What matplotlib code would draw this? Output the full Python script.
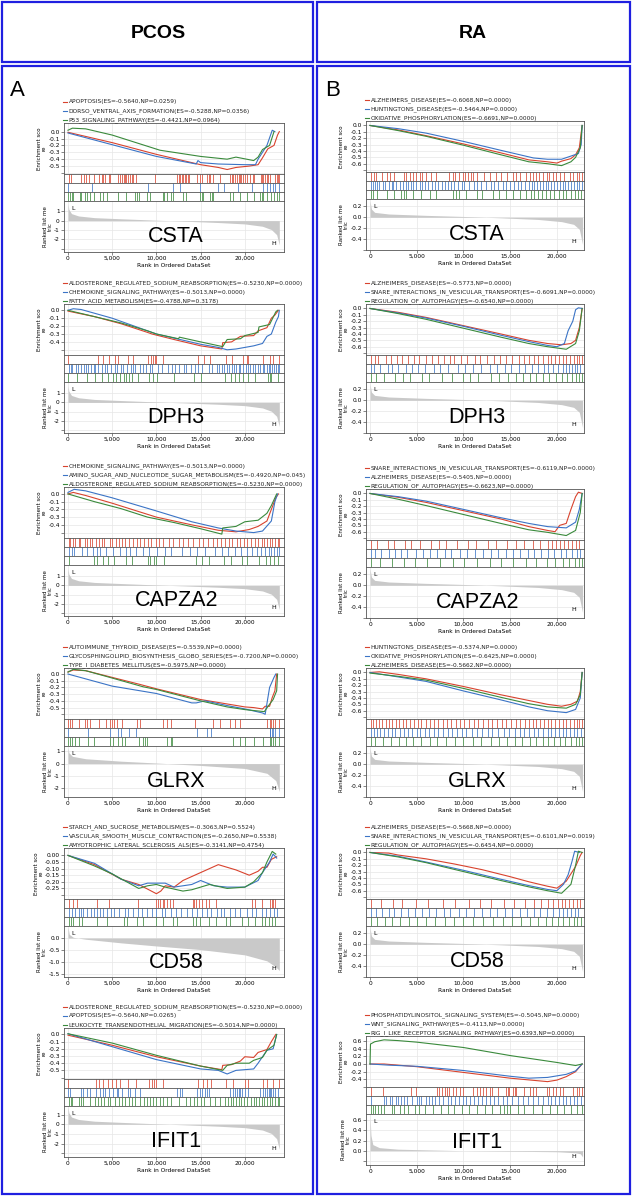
import matplotlib
matplotlib.use("Agg")
import matplotlib.pyplot as plt
from matplotlib.lines import Line2D
from matplotlib.patches import Rectangle
from matplotlib.ticker import FuncFormatter

W, H = 632, 1197
RED, BLUE, GREEN = "#d8432e", "#3b74c6", "#3a8a3c"
COLORS = [RED, BLUE, GREEN]

# ---------------- PCOS panels ----------------
P_CSTA_labels = ["APOPTOSIS(ES=-0.5640,NP=0.0259)",
                 "DORSO_VENTRAL_AXIS_FORMATION(ES=-0.5288,NP=0.0356)",
                 "P53_SIGNALING_PATHWAY(ES=-0.4421,NP=0.0964)"]
P_CSTA_red = [(0, -0.01), (2000, -0.07), (5000, -0.16), (10000, -0.33), (13000, -0.42), (15000, -0.48),
              (17000, -0.52), (18000, -0.55), (19000, -0.52), (20500, -0.50), (21500, -0.48), (22000, -0.38),
              (22600, -0.25), (23300, -0.20), (23700, -0.05), (23900, 0.0)]
P_CSTA_blue = [(0, -0.02), (5000, -0.19), (10000, -0.36), (14500, -0.47), (14700, -0.42), (15000, -0.45),
               (17000, -0.47), (20000, -0.48), (21200, -0.48), (21500, -0.40), (22000, -0.30), (22500, -0.20),
               (23100, 0.02), (23400, 0.0)]
P_CSTA_green = [(0, 0.02), (500, 0.05), (2000, 0.04), (5000, -0.05), (10400, -0.27), (15000, -0.36),
                (18000, -0.40), (19000, -0.37), (21000, -0.42), (21500, -0.37), (22000, -0.26), (22800, -0.20),
                (23300, 0.0)]
P_CSTA_hits_red = [0.08, 0.3, 1.5, 1.8, 2.0, 2.4, 2.9, 3.5, 3.8, 4.0, 4.2, 4.6, 4.8, 5.7, 5.9, 6.1, 6.3, 6.5,
                   6.6, 6.8, 7.0, 7.2, 7.4, 7.7, 9.8, 12.3, 12.5, 12.7, 12.9, 13.0, 13.2, 13.4, 13.6, 13.7, 14.6,
                   14.9, 15.1, 15.7, 15.9, 16.1, 16.4, 17.2, 18.3, 18.5, 18.7, 18.9, 19.1, 19.3, 19.5, 19.6, 19.8,
                   20.0, 20.3, 20.6, 20.9, 21.0, 21.8, 21.9, 22.1, 22.3, 22.5, 22.6, 22.8, 23.4, 23.6, 23.8, 23.9]
P_CSTA_hits_blue = [0.04, 2.7, 9.1, 11.9, 12.7, 14.9, 17.0, 17.6, 19.2, 20.8, 22.1, 22.5, 22.8, 23.2, 23.4, 23.9]
P_CSTA_hits_green = [0.04, 0.2, 0.4, 0.6, 1.4, 1.5, 1.9, 2.1, 2.5, 2.9, 3.6, 4.0, 4.4, 5.7, 6.6, 7.6, 7.8, 8.0,
                     8.9, 9.3, 10.7, 10.9, 11.2, 11.6, 11.9, 13.0, 13.4, 14.9, 15.1, 15.3, 16.1, 16.3, 16.4, 18.3,
                     18.7, 19.5, 20.2, 21.0, 21.7, 21.9, 22.1, 22.5, 23.0, 23.3, 23.6, 23.9]

P_DPH3_labels = ["ALDOSTERONE_REGULATED_SODIUM_REABSORPTION(ES=-0.5230,NP=0.0000)",
                 "CHEMOKINE_SIGNALING_PATHWAY(ES=-0.5013,NP=0.0000)",
                 "FATTY_ACID_METABOLISM(ES=-0.4788,NP=0.3178)"]
P_DPH3_red = [(0, -0.01), (3000, -0.08), (6000, -0.17), (9000, -0.28), (9500, -0.30), (12000, -0.37),
              (15000, -0.45), (17400, -0.49), (17500, -0.41), (18500, -0.40), (19500, -0.33), (21000, -0.32),
              (21500, -0.26), (22500, -0.22), (23000, -0.10), (23400, -0.06), (23800, 0.0)]
P_DPH3_blue = [(0, 0.0), (600, 0.02), (1500, 0.01), (5000, -0.10), (10000, -0.30), (15000, -0.43),
               (17000, -0.47), (18000, -0.50), (19000, -0.49), (21000, -0.45), (22000, -0.42), (22500, -0.33),
               (23000, -0.30), (23500, -0.15), (23800, -0.08), (23900, 0.0)]
P_DPH3_green = [(0, 0.0), (3000, -0.08), (6000, -0.16), (9000, -0.26), (10000, -0.30), (12500, -0.36),
                (12600, -0.34), (15000, -0.40), (17500, -0.46), (18000, -0.37), (19500, -0.36), (20000, -0.32),
                (21500, -0.28), (21600, -0.21), (22800, -0.18), (23500, -0.02), (23700, 0.0)]
P_DPH3_hits_red = [0.04, 3.4, 4.0, 4.6, 5.3, 5.7, 6.8, 7.3, 9.1, 9.4, 9.6, 9.8, 10.0, 10.8, 14.7, 15.4, 16.1,
                   17.9, 18.6, 19.8, 20.2, 20.4, 22.1, 22.8, 23.2, 23.9]
P_DPH3_hits_blue = [0.1, 0.3, 0.5, 0.9, 1.1, 1.5, 1.8, 2.0, 2.3, 2.6, 2.9, 3.1, 3.4, 3.9, 4.2, 4.4, 4.9, 5.3,
                    5.5, 6.0, 6.2, 6.7, 7.1, 7.4, 7.6, 8.1, 8.5, 8.8, 9.3, 9.5, 10.2, 10.6, 11.3, 11.8, 12.1, 12.6,
                    13.1, 13.4, 13.9, 14.4, 14.7, 15.2, 15.9, 16.3, 16.8, 17.1, 17.4, 17.7, 18.0, 18.2, 18.5, 18.8,
                    19.0, 19.3, 19.5, 19.8, 20.1, 20.4, 20.6, 20.9, 21.2, 21.5, 21.7, 22.0, 22.2, 22.5, 22.7, 22.9,
                    23.1, 23.3, 23.5, 23.7, 23.9]
P_DPH3_hits_green = [0.04, 1.0, 2.1, 3.0, 3.8, 4.5, 5.1, 5.4, 5.9, 6.3, 6.6, 6.9, 7.2, 7.9, 9.2, 9.6, 10.1, 12.0,
                     14.2, 15.0, 17.8, 18.4, 18.9, 19.3, 19.8, 20.4, 21.2, 22.6, 22.8, 23.0, 23.8]

P_CAPZA2_labels = ["CHEMOKINE_SIGNALING_PATHWAY(ES=-0.5013,NP=0.0000)",
                   "AMINO_SUGAR_AND_NUCLEOTIDE_SUGAR_METABOLISM(ES=-0.4920,NP=0.045)",
                   "ALDOSTERONE_REGULATED_SODIUM_REABSORPTION(ES=-0.5230,NP=0.0000)"]
P_CAPZA2_red = [(0, 0.0), (600, 0.02), (2000, -0.02), (5000, -0.12), (10000, -0.30), (14000, -0.40),
                (17000, -0.47), (19000, -0.49), (20500, -0.46), (21500, -0.42), (22500, -0.35), (23000, -0.20),
                (23500, -0.05), (23800, 0.0)]
P_CAPZA2_blue = [(0, 0.02), (700, 0.06), (2000, 0.04), (5000, -0.05), (10000, -0.22), (14000, -0.36),
                 (17000, -0.44), (19000, -0.48), (21000, -0.50), (22000, -0.48), (23000, -0.35), (23400, -0.10),
                 (23700, 0.0)]
P_CAPZA2_green = [(0, 0.0), (3000, -0.10), (6000, -0.19), (9000, -0.30), (12000, -0.37), (15000, -0.45),
                  (17400, -0.52), (17500, -0.44), (19000, -0.42), (20000, -0.36), (21500, -0.34), (22500, -0.25),
                  (23000, -0.15), (23600, 0.0)]
P_CAPZA2_hits_red = [0.1, 0.2, 0.6, 0.8, 1.2, 1.4, 1.9, 2.2, 2.5, 2.7, 3.2, 3.5, 3.8, 4.1, 4.7, 5.0, 5.4, 5.8,
                     6.1, 6.5, 6.9, 7.3, 7.8, 8.2, 8.6, 9.0, 9.4, 9.9, 10.3, 10.8, 11.4, 11.9, 12.5, 13.0, 13.6,
                     14.1, 14.8, 15.3, 15.8, 16.4, 16.9, 17.3, 17.8, 18.2, 18.6, 19.1, 19.5, 19.9, 20.3, 20.7,
                     21.1, 21.5, 21.9, 22.2, 22.5, 22.8, 23.1, 23.4, 23.7, 23.9]
P_CAPZA2_hits_blue = [0.1, 0.4, 0.7, 1.6, 2.1, 2.8, 3.3, 3.6, 4.3, 5.1, 5.9, 6.6, 7.0, 7.7, 8.5, 9.2, 10.1, 11.0,
                      11.7, 12.9, 13.8, 14.6, 15.5, 16.6, 17.4, 18.1, 18.9, 19.6, 20.2, 20.8, 21.4, 21.8, 22.3,
                      22.7, 23.0, 23.3, 23.6, 23.9]
P_CAPZA2_hits_green = [0.1, 2.9, 3.3, 4.0, 4.5, 5.2, 6.6, 7.2, 9.0, 9.3, 9.7, 10.0, 10.9, 14.5, 15.2, 16.0, 17.6,
                       18.4, 19.7, 20.3, 21.6, 22.4, 22.9, 23.3, 23.8]

P_GLRX_labels = ["AUTOIMMUNE_THYROID_DISEASE(ES=-0.5539,NP=0.0000)",
                 "GLYCOSPHINGOLIPID_BIOSYNTHESIS_GLOBO_SERIES(ES=-0.7200,NP=0.0000)",
                 "TYPE_I_DIABETES_MELLITUS(ES=-0.5975,NP=0.0000)"]
P_GLRX_red = [(0, 0.03), (600, 0.06), (2000, 0.05), (5000, -0.05), (8000, -0.15), (10000, -0.22), (15000, -0.38),
              (20000, -0.49), (21000, -0.50), (22000, -0.52), (22300, -0.48), (22800, -0.48), (23100, -0.35),
              (23400, -0.25), (23600, 0.0)]
P_GLRX_blue = [(0, 0.0), (5000, -0.18), (10000, -0.29), (14000, -0.43), (14500, -0.43), (15500, -0.40),
               (18000, -0.47), (20000, -0.52), (22000, -0.58), (22300, -0.60), (22800, -0.20), (23300, -0.05),
               (23500, 0.0)]
P_GLRX_green = [(0, 0.03), (600, 0.07), (2000, 0.05), (5000, -0.06), (8500, -0.19), (10000, -0.23), (15000, -0.40),
                (18000, -0.49), (20000, -0.53), (22200, -0.56), (22800, -0.45), (23200, -0.38), (23600, -0.25),
                (23700, 0.0)]
P_GLRX_hits_red = [0.04, 0.2, 0.4, 1.2, 1.9, 2.2, 2.5, 3.5, 4.3, 4.8, 5.0, 5.2, 5.6, 6.1, 7.8, 8.2, 10.8, 11.2,
                   11.6, 14.4, 16.4, 17.2, 18.3, 18.9, 19.5, 22.5, 22.8, 23.0, 23.2, 23.4, 23.9]
P_GLRX_hits_blue = [0.04, 2.3, 4.8, 5.7, 6.0, 6.9, 7.7, 14.6, 15.7, 16.2, 22.8, 22.9, 23.1, 23.2, 23.4, 23.9]
P_GLRX_hits_green = [0.04, 0.2, 0.4, 0.8, 1.2, 2.3, 2.9, 4.8, 5.1, 5.7, 6.1, 6.4, 8.0, 8.5, 8.7, 8.9, 11.2, 11.6,
                     11.8, 18.7, 19.5, 20.0, 21.0, 22.1, 22.8, 23.0, 23.2, 23.4, 23.9]

P_CD58_labels = ["STARCH_AND_SUCROSE_METABOLISM(ES=-0.3063,NP=0.5524)",
                 "VASCULAR_SMOOTH_MUSCLE_CONTRACTION(ES=-0.2650,NP=0.5538)",
                 "AMYOTROPHIC_LATERAL_SCLEROSIS_ALS(ES=-0.3141,NP=0.4754)"]
P_CD58_red = [(0, 0.0), (3000, -0.07), (6000, -0.18), (8000, -0.22), (10000, -0.29), (10500, -0.27),
              (11000, -0.23), (12000, -0.24), (13000, -0.19), (15000, -0.13), (16000, -0.10), (17000, -0.07),
              (18000, -0.09), (19000, -0.11), (20500, -0.15), (21500, -0.12), (22000, -0.09), (22500, -0.09),
              (23000, -0.03), (23600, -0.01)]
P_CD58_blue = [(0, 0.0), (3000, -0.06), (6000, -0.18), (8000, -0.23), (9000, -0.21), (11000, -0.21),
               (12000, -0.24), (14000, -0.22), (15000, -0.19), (16500, -0.23), (18000, -0.24), (20000, -0.24),
               (21500, -0.19), (22000, -0.13), (22800, -0.05), (23200, 0.01), (23600, -0.02)]
P_CD58_green = [(0, 0.0), (3000, -0.08), (5000, -0.14), (8000, -0.25), (9000, -0.23), (10000, -0.22),
                (11000, -0.24), (13000, -0.27), (14000, -0.26), (15000, -0.24), (16000, -0.22), (18000, -0.25),
                (20000, -0.24), (21000, -0.20), (22000, -0.13), (22500, -0.05), (23100, 0.03), (23500, 0.01)]
P_CD58_hits_red = [0.1, 0.6, 1.0, 3.3, 4.6, 7.9, 9.9, 10.2, 10.4, 10.7, 10.9, 11.2, 11.5, 11.9, 14.1, 14.3, 14.5,
                   14.8, 15.2, 15.6, 16.0, 16.7, 20.8, 21.2, 21.9, 22.8, 23.1, 23.2, 23.4]
P_CD58_hits_blue = [0.1, 0.4, 0.8, 1.3, 1.5, 1.7, 2.2, 2.6, 2.9, 3.3, 3.6, 4.0, 4.4, 4.9, 5.2, 5.8, 6.4, 6.8, 7.3,
                    7.9, 8.4, 8.9, 9.5, 9.9, 10.6, 11.0, 11.6, 12.2, 12.8, 13.5, 14.0, 14.6, 15.1, 15.7, 16.2,
                    16.8, 17.3, 17.7, 18.3, 18.9, 19.5, 20.2, 20.8, 21.3, 21.9, 22.4, 22.9, 23.3, 23.6]
P_CD58_hits_green = [0.1, 0.3, 0.6, 1.2, 1.6, 3.3, 4.4, 6.3, 6.7, 7.8, 8.5, 10.0, 10.8, 11.9, 12.3, 14.1, 14.5,
                     14.9, 16.0, 16.7, 17.9, 18.3, 19.7, 20.4, 21.2, 21.9, 22.3, 22.7, 23.1, 23.4]

P_IFIT1_labels = ["ALDOSTERONE_REGULATED_SODIUM_REABSORPTION(ES=-0.5230,NP=0.0000)",
                  "APOPTOSIS(ES=-0.5640,NP=0.0265)",
                  "LEUKOCYTE_TRANSENDOTHELIAL_MIGRATION(ES=-0.5014,NP=0.0000)"]
P_IFIT1_red = [(0, -0.01), (5000, -0.15), (10000, -0.31), (15000, -0.44), (17400, -0.49), (17500, -0.43),
               (18500, -0.42), (19500, -0.37), (20000, -0.31), (21000, -0.32), (21500, -0.25), (22500, -0.21),
               (23000, -0.10), (23500, 0.0)]
P_IFIT1_blue = [(0, 0.01), (5000, -0.17), (10000, -0.35), (15000, -0.48), (17000, -0.50), (18000, -0.55),
                (19000, -0.50), (21000, -0.48), (21500, -0.40), (22500, -0.22), (23200, -0.20), (23600, 0.0)]
P_IFIT1_green = [(0, 0.01), (5000, -0.12), (10000, -0.29), (15000, -0.44), (17500, -0.50), (18000, -0.43),
                 (19000, -0.40), (20500, -0.40), (21000, -0.36), (22000, -0.32), (22500, -0.22), (23300, -0.15),
                 (23600, 0.0)]
P_IFIT1_hits_red = [0.04, 3.2, 3.5, 4.0, 4.5, 5.0, 5.4, 5.9, 6.8, 7.7, 9.2, 9.5, 9.7, 10.0, 10.8, 14.7, 15.3, 15.7,
                    16.2, 17.9, 18.7, 20.0, 20.4, 22.1, 22.5, 23.2, 23.9]
P_IFIT1_hits_blue = [0.04, 0.2, 1.5, 1.7, 2.1, 2.5, 3.2, 3.6, 4.0, 4.2, 4.6, 5.1, 5.5, 5.7, 6.1, 6.8, 7.0, 7.6, 8.1,
                     12.3, 12.7, 12.9, 14.6, 14.9, 15.1, 15.5, 15.7, 15.9, 18.3, 18.7, 18.9, 19.1, 19.3, 19.5,
                     19.7, 20.0, 20.4, 21.7, 22.1, 22.3, 22.5, 22.7, 22.8, 23.0, 23.2, 23.4, 23.8]
P_IFIT1_hits_green = [0.1, 0.3, 0.5, 1.3, 1.5, 1.7, 2.5, 3.0, 3.4, 3.7, 4.1, 4.5, 4.8, 5.3, 5.8, 6.1, 6.5, 6.9,
                      7.2, 7.6, 8.2, 8.6, 8.9, 9.3, 9.6, 9.9, 10.4, 10.8, 11.2, 11.7, 12.5, 13.3, 13.8, 14.2, 14.6,
                      15.0, 15.4, 16.1, 16.6, 17.2, 17.8, 18.1, 18.4, 18.7, 19.0, 19.3, 19.6, 19.9, 20.3, 20.7,
                      21.0, 21.3, 21.6, 21.9, 22.2, 22.5, 22.8, 23.1, 23.4, 23.7, 23.9]

P_metric = [(0, 1.8), (100, 1.2), (400, 0.75), (1200, 0.5), (3000, 0.32), (6000, 0.2), (10000, 0.05),
            (13000, -0.05), (17000, -0.2), (20000, -0.35), (22000, -0.6), (23000, -0.95), (23600, -1.5),
            (23900, -2.6)]
P_GLRX_metric = [(0, 1.3), (100, 0.9), (500, 0.6), (2000, 0.4), (6000, 0.2), (10000, 0.05), (15000, -0.15),
                 (20000, -0.4), (22500, -0.8), (23500, -1.4), (23900, -2.3)]
P_CD58_metric = [(0, 0.45), (150, 0.15), (600, 0.03), (2000, -0.05), (6000, -0.2), (10000, -0.33),
                 (15000, -0.48), (20000, -0.7), (22500, -0.95), (23500, -1.2), (23900, -1.35)]

# ---------------- RA panels ----------------
R_CSTA_labels = ["ALZHEIMERS_DISEASE(ES=-0.6068,NP=0.0000)",
                 "HUNTINGTONS_DISEASE(ES=-0.5464,NP=0.0000)",
                 "OXIDATIVE_PHOSPHORYLATION(ES=-0.6691,NP=0.0000)"]
R_CSTA_red = [(0, 0.0), (3000, -0.07), (6000, -0.16), (10000, -0.29), (14000, -0.43), (17000, -0.54),
              (19000, -0.57), (20000, -0.59), (20500, -0.56), (21500, -0.52), (22000, -0.46), (22400, -0.35),
              (22700, 0.0)]
R_CSTA_blue = [(0, 0.0), (3000, -0.05), (6000, -0.12), (10000, -0.25), (14000, -0.39), (17500, -0.51),
               (19000, -0.53), (20500, -0.53), (21500, -0.48), (22300, -0.44), (22600, -0.30), (22700, 0.0)]
R_CSTA_green = [(0, 0.0), (3000, -0.08), (6000, -0.17), (10000, -0.31), (14000, -0.46), (17000, -0.57),
                (19000, -0.60), (20500, -0.63), (21500, -0.57), (22000, -0.50), (22500, -0.35), (22700, 0.0)]
R_CSTA_hits_red = [0.1, 0.4, 0.6, 1.3, 1.8, 2.1, 2.6, 3.6, 3.8, 4.3, 4.6, 4.9, 5.3, 5.6, 6.0, 6.5, 7.1, 8.5, 8.9,
                   9.1, 9.5, 9.9, 10.2, 10.5, 10.8, 11.0, 11.4, 12.2, 12.8, 13.5, 14.0, 14.7, 15.3, 15.6, 16.0,
                   16.7, 17.1, 17.4, 17.8, 18.1, 18.5, 18.9, 19.2, 19.6, 19.9, 20.3, 20.8, 21.4, 21.7, 22.1, 22.4,
                   22.7]
R_CSTA_hits_blue = [0.1, 0.3, 0.5, 0.8, 1.0, 1.4, 1.6, 2.0, 2.3, 2.5, 2.8, 3.2, 3.5, 3.8, 4.1, 4.4, 4.6, 4.9, 5.3,
                    5.6, 5.9, 6.2, 6.6, 7.0, 7.3, 7.7, 8.0, 8.3, 8.7, 9.0, 9.4, 9.8, 10.1, 10.6, 11.1, 11.5, 11.9,
                    12.4, 12.9, 13.3, 13.7, 14.2, 14.6, 15.0, 15.4, 15.8, 16.2, 16.6, 17.0, 17.3, 17.6, 17.9, 18.2,
                    18.5, 18.8, 19.1, 19.4, 19.7, 20.0, 20.3, 20.6, 20.9, 21.2, 21.5, 21.8, 22.1, 22.4, 22.7]
R_CSTA_hits_green = [0.1, 0.3, 0.7, 1.8, 2.6, 3.3, 3.6, 3.9, 4.6, 5.5, 6.4, 7.1, 8.9, 9.2, 9.5, 10.3, 11.4, 12.0,
                     13.2, 13.8, 14.5, 15.3, 16.1, 16.7, 17.2, 17.6, 18.0, 18.4, 18.8, 19.3, 19.7, 20.2, 20.6,
                     21.0, 21.5, 21.9, 22.3, 22.6]

R_DPH3_labels = ["ALZHEIMERS_DISEASE(ES=-0.5773,NP=0.0000)",
                 "SNARE_INTERACTIONS_IN_VESICULAR_TRANSPORT(ES=-0.6091,NP=0.0000)",
                 "REGULATION_OF_AUTOPHAGY(ES=-0.6540,NP=0.0000)"]
R_DPH3_red = [(0, 0.0), (3000, -0.06), (6000, -0.14), (10000, -0.27), (14000, -0.40), (17000, -0.50),
              (19000, -0.55), (20500, -0.57), (21500, -0.55), (22000, -0.50), (22400, -0.30), (22700, 0.0)]
R_DPH3_blue = [(0, 0.0), (3000, -0.07), (6000, -0.15), (10000, -0.28), (14000, -0.42), (17000, -0.52),
               (19000, -0.58), (20000, -0.60), (20800, -0.55), (21200, -0.35), (21700, -0.20), (22000, -0.02),
               (22300, 0.01), (22700, 0.0)]
R_DPH3_green = [(0, 0.0), (3000, -0.08), (6000, -0.17), (10000, -0.31), (14000, -0.45), (17000, -0.55),
                (19000, -0.60), (21000, -0.64), (22000, -0.55), (22400, -0.35), (22700, 0.0)]
R_DPH3_hits_red = [0.1, 0.5, 0.9, 1.7, 2.2, 2.9, 3.4, 4.1, 4.7, 5.2, 6.0, 6.6, 7.3, 7.9, 8.6, 9.0, 9.7, 10.4, 11.2,
                   11.8, 12.5, 13.3, 13.9, 14.6, 15.2, 15.9, 16.5, 17.0, 17.5, 18.0, 18.5, 19.0, 19.4, 19.8, 20.2,
                   20.6, 21.0, 21.4, 21.8, 22.1, 22.4, 22.7]
R_DPH3_hits_blue = [0.1, 0.4, 1.1, 1.9, 2.4, 3.0, 3.8, 4.5, 5.1, 5.9, 6.8, 7.5, 8.3, 9.4, 10.2, 11.0, 11.9, 12.8,
                    13.6, 14.4, 15.1, 15.9, 16.6, 17.3, 18.0, 18.6, 19.1, 19.6, 20.1, 20.6, 21.0, 21.3, 21.6,
                    21.9, 22.2, 22.5]
R_DPH3_hits_green = [0.1, 0.6, 1.5, 2.7, 3.5, 4.3, 5.6, 6.3, 7.7, 8.8, 9.9, 10.7, 11.6, 12.9, 13.8, 14.8, 15.6,
                     16.4, 17.1, 17.8, 18.5, 19.2, 19.9, 20.5, 21.1, 21.6, 22.0, 22.4, 22.7]

R_CAPZA2_labels = ["SNARE_INTERACTIONS_IN_VESICULAR_TRANSPORT(ES=-0.6119,NP=0.0000)",
                   "ALZHEIMERS_DISEASE(ES=-0.5405,NP=0.0000)",
                   "REGULATION_OF_AUTOPHAGY(ES=-0.6623,NP=0.0000)"]
R_CAPZA2_red = [(0, 0.0), (3000, -0.06), (6000, -0.14), (10000, -0.27), (14000, -0.40), (17000, -0.52),
                (19000, -0.58), (19800, -0.60), (20300, -0.50), (21000, -0.47), (21500, -0.25), (22000, -0.05),
                (22300, 0.02), (22700, 0.0)]
R_CAPZA2_blue = [(0, 0.0), (3000, -0.05), (6000, -0.12), (10000, -0.25), (14000, -0.38), (17000, -0.47),
                 (19000, -0.52), (21000, -0.54), (22000, -0.45), (22400, -0.25), (22700, 0.0)]
R_CAPZA2_green = [(0, 0.0), (3000, -0.09), (6000, -0.19), (10000, -0.33), (14000, -0.47), (17000, -0.57),
                  (19000, -0.61), (21000, -0.66), (22000, -0.58), (22500, -0.30), (22700, 0.0)]
R_CAPZA2_hits_red = [0.1, 0.8, 1.9, 2.6, 3.7, 4.4, 5.3, 6.5, 7.4, 8.1, 9.3, 10.5, 11.3, 12.6, 13.5, 14.7, 15.6,
                     16.5, 17.4, 18.2, 19.0, 19.5, 19.9, 20.3, 20.8, 21.2, 21.6, 22.0, 22.4]
R_CAPZA2_hits_blue = [0.1, 0.5, 1.2, 2.0, 2.7, 3.3, 4.0, 4.9, 5.7, 6.4, 7.2, 8.0, 8.7, 9.6, 10.4, 11.2, 12.1,
                      12.9, 13.7, 14.5, 15.3, 16.1, 16.9, 17.6, 18.3, 19.0, 19.7, 20.4, 21.0, 21.6, 22.1, 22.5]
R_CAPZA2_hits_green = [0.1, 1.1, 2.3, 3.6, 4.8, 6.1, 7.5, 8.9, 10.1, 11.4, 12.8, 14.0, 15.3, 16.7, 17.8, 18.9,
                       19.8, 20.6, 21.3, 21.9, 22.4, 22.7]

R_GLRX_labels = ["HUNTINGTONS_DISEASE(ES=-0.5374,NP=0.0000)",
                 "OXIDATIVE_PHOSPHORYLATION(ES=-0.6425,NP=0.0000)",
                 "ALZHEIMERS_DISEASE(ES=-0.5662,NP=0.0000)"]
R_GLRX_red = [(0, 0.0), (1000, 0.01), (3000, -0.03), (6000, -0.10), (10000, -0.22), (14000, -0.35),
              (17000, -0.44), (19000, -0.50), (20500, -0.53), (21500, -0.50), (22200, -0.45), (22500, -0.30),
              (22700, 0.0)]
R_GLRX_blue = [(0, 0.0), (3000, -0.07), (6000, -0.14), (10000, -0.29), (14000, -0.43), (17000, -0.54),
               (19000, -0.60), (21000, -0.63), (22000, -0.58), (22500, -0.40), (22700, 0.0)]
R_GLRX_green = [(0, -0.01), (3000, -0.06), (6000, -0.12), (10000, -0.25), (14000, -0.39), (17000, -0.49),
                (19000, -0.54), (21000, -0.56), (22000, -0.50), (22500, -0.35), (22700, 0.0)]
R_GLRX_hits_red = [0.1, 0.3, 0.6, 1.0, 1.3, 1.7, 2.0, 2.4, 2.8, 3.1, 3.5, 3.9, 4.3, 4.7, 5.1, 5.5, 6.0, 6.4, 6.9,
                   7.3, 7.8, 8.2, 8.7, 9.2, 9.6, 10.1, 10.6, 11.1, 11.6, 12.1, 12.6, 13.1, 13.6, 14.1, 14.6, 15.1,
                   15.6, 16.1, 16.6, 17.0, 17.4, 17.8, 18.2, 18.6, 19.0, 19.4, 19.8, 20.2, 20.6, 21.0, 21.4, 21.8,
                   22.1, 22.4, 22.7]
R_GLRX_hits_blue = [0.1, 0.4, 0.7, 1.1, 1.5, 1.9, 2.3, 2.7, 3.2, 3.6, 4.1, 4.5, 5.0, 5.4, 5.9, 6.3, 6.8, 7.3, 7.8,
                    8.3, 8.8, 9.3, 9.8, 10.3, 10.9, 11.4, 12.0, 12.6, 13.1, 13.7, 14.3, 14.9, 15.5, 16.0, 16.5,
                    17.0, 17.5, 18.0, 18.5, 19.0, 19.4, 19.8, 20.2, 20.6, 21.0, 21.4, 21.8, 22.2, 22.6]
R_GLRX_hits_green = [0.1, 0.5, 1.4, 2.2, 3.1, 3.9, 4.6, 5.5, 6.4, 7.2, 8.1, 9.1, 10.0, 11.0, 11.9, 12.9, 13.8,
                     14.7, 15.5, 16.3, 17.1, 17.8, 18.5, 19.1, 19.7, 20.3, 20.9, 21.5, 22.0, 22.4, 22.7]

R_CD58_labels = ["ALZHEIMERS_DISEASE(ES=-0.5668,NP=0.0000)",
                 "SNARE_INTERACTIONS_IN_VESICULAR_TRANSPORT(ES=-0.6101,NP=0.0019)",
                 "REGULATION_OF_AUTOPHAGY(ES=-0.6454,NP=0.0000)"]
R_CD58_red = [(0, 0.0), (2000, -0.01), (3000, -0.04), (6000, -0.10), (9000, -0.18), (12000, -0.27),
              (15000, -0.38), (17000, -0.46), (19000, -0.53), (20000, -0.56), (21000, -0.45), (22000, -0.22),
              (22500, -0.05), (22700, 0.0)]
R_CD58_blue = [(0, 0.0), (3000, -0.06), (6000, -0.15), (10000, -0.28), (14000, -0.42), (17000, -0.52),
               (19000, -0.58), (20000, -0.60), (20700, -0.50), (21200, -0.35), (21600, -0.15), (21900, 0.02),
               (22400, 0.0)]
R_CD58_green = [(0, 0.0), (3000, -0.07), (6000, -0.16), (10000, -0.30), (14000, -0.44), (17000, -0.54),
                (19000, -0.60), (20500, -0.64), (21500, -0.50), (22000, -0.20), (22300, 0.02), (22700, 0.0)]
R_CD58_hits_red = [0.1, 1.2, 2.5, 3.4, 4.9, 6.2, 7.8, 9.1, 10.6, 11.8, 13.0, 14.3, 15.4, 16.6, 17.5, 18.3, 19.0,
                   19.6, 20.1, 20.5, 20.9, 21.3, 21.7, 22.1, 22.5]
R_CD58_hits_blue = [0.1, 0.6, 1.3, 2.0, 2.6, 3.3, 4.1, 4.8, 5.6, 6.3, 7.1, 7.9, 8.6, 9.5, 10.3, 11.1, 12.0, 12.8,
                    13.6, 14.4, 15.2, 16.0, 16.8, 17.5, 18.2, 18.9, 19.6, 20.2, 20.7, 21.1, 21.5, 21.9, 22.3]
R_CD58_hits_green = [0.1, 0.7, 1.6, 2.4, 3.2, 4.2, 5.0, 6.0, 7.0, 8.0, 9.0, 10.0, 11.0, 12.1, 13.2, 14.2, 15.2,
                     16.2, 17.1, 18.0, 18.8, 19.5, 20.1, 20.7, 21.3, 21.8, 22.2, 22.6]

R_IFIT1_labels = ["PHOSPHATIDYLINOSITOL_SIGNALING_SYSTEM(ES=-0.5045,NP=0.0000)",
                  "WNT_SIGNALING_PATHWAY(ES=-0.4113,NP=0.0000)",
                  "RIG_I_LIKE_RECEPTOR_SIGNALING_PATHWAY(ES=0.6393,NP=0.0000)"]
R_IFIT1_red = [(0, 0.0), (1500, 0.0), (5000, -0.07), (10000, -0.22), (15000, -0.37), (19000, -0.46),
               (20000, -0.42), (21000, -0.33), (22000, -0.20), (22700, 0.0)]
R_IFIT1_blue = [(0, 0.0), (2000, -0.03), (5000, -0.06), (10000, -0.17), (15000, -0.32), (17000, -0.37),
                (19000, -0.35), (21000, -0.27), (22000, -0.18), (22700, 0.0)]
R_IFIT1_green = [(0, 0.0), (50, 0.52), (500, 0.58), (1500, 0.63), (3000, 0.61), (5000, 0.57), (10000, 0.43),
                 (15000, 0.22), (20000, 0.04), (22000, -0.04), (22700, 0.0)]
R_IFIT1_hits_red = [0.1, 1.4, 4.4, 4.9, 7.2, 7.4, 7.7, 8.0, 8.2, 8.5, 8.9, 9.2, 9.6, 9.9, 11.0, 11.4, 11.8, 12.1,
                    12.4, 12.8, 13.1, 13.7, 14.6, 14.8, 14.9, 15.3, 15.5, 15.6, 16.5, 17.1, 17.4, 17.8, 18.9, 19.2,
                    19.6, 19.9, 20.3, 20.6, 21.7, 22.1, 22.4, 22.7]
R_IFIT1_hits_blue = [0.1, 1.5, 1.7, 2.1, 2.4, 2.8, 3.0, 3.3, 3.6, 4.0, 4.5, 5.0, 5.2, 5.5, 6.0, 6.3, 6.6, 7.0, 7.4,
                     7.8, 8.3, 8.7, 9.1, 9.5, 9.9, 10.3, 10.7, 11.1, 11.6, 12.0, 12.4, 12.8, 13.3, 13.7, 14.2, 14.7,
                     15.2, 15.8, 16.4, 16.9, 17.4, 18.0, 18.5, 19.0, 19.4, 19.8, 20.2, 20.6, 21.0, 21.4, 21.8,
                     22.2, 22.6]
R_IFIT1_hits_green = [0.1, 0.3, 0.5, 0.9, 1.2, 1.5, 2.3, 2.6, 3.2, 3.6, 4.1, 4.8, 5.2, 5.9, 6.7, 7.6, 8.3, 9.0,
                      9.8, 10.6, 11.5, 12.3, 13.1, 13.9, 14.3, 14.7, 15.0, 15.8, 16.5, 17.4, 18.4, 19.3, 20.0,
                      20.8, 21.5, 22.1, 22.7]

R_metric = [(0, 0.3), (150, 0.15), (500, 0.09), (2000, 0.06), (6000, 0.035), (10000, 0.015), (14000, -0.01),
            (18000, -0.04), (20500, -0.08), (21800, -0.13), (22400, -0.22), (22750, -0.5)]
R_IFIT1_metric = [(0, 0.68), (100, 0.3), (300, 0.12), (1000, 0.06), (3000, 0.03), (10000, 0.0), (20000, -0.02),
                  (22000, -0.04), (22500, -0.06), (22750, -0.12)]

# ---------------- layout ----------------
COL_X = [(64, 284), (366, 584)]
XLIM = [(-450, 24430), (-430, 22900)]
TOPS = [[102, 283, 466, 647, 827, 1007], [100, 283, 468, 647, 827, 1015]]
XT = [0, 5000, 10000, 15000, 20000]

ES_A = [0.0, -0.1, -0.2, -0.3, -0.4, -0.5, -0.6]
ES_B = [0.0, -0.1, -0.2, -0.3, -0.4, -0.5, -0.6, -0.7]
RK_P = [1, 0, -1, -2, -3]
RK_R = [0.2, 0.0, -0.2, -0.4, -0.6]

# col, row, gene, labels, curves, hits, metric,
# es ticks, es ylim, es fmt, hide lowest es label, rank ticks, rank ylim, rank fmt, hide lowest rank label, gene_y
panels = [
    (0, 0, "CSTA", P_CSTA_labels, [P_CSTA_red, P_CSTA_blue, P_CSTA_green],
     [P_CSTA_hits_red, P_CSTA_hits_blue, P_CSTA_hits_green], P_metric,
     ES_A, (-0.615, 0.125), "%.1f", True, RK_P, (-3.35, 2.1), "%d", True, 0.3),
    (0, 1, "DPH3", P_DPH3_labels, [P_DPH3_red, P_DPH3_blue, P_DPH3_green],
     [P_DPH3_hits_red, P_DPH3_hits_blue, P_DPH3_hits_green], P_metric,
     ES_A[:6], (-0.566, 0.08), "%.1f", True, RK_P, (-3.3, 2.2), "%d", True, 0.3),
    (0, 2, "CAPZA2", P_CAPZA2_labels, [P_CAPZA2_red, P_CAPZA2_blue, P_CAPZA2_green],
     [P_CAPZA2_hits_red, P_CAPZA2_hits_blue, P_CAPZA2_hits_green], P_metric,
     ES_A[:6], (-0.57, 0.09), "%.1f", True, RK_P, (-3.3, 2.2), "%d", True, 0.3),
    (0, 3, "GLRX", P_GLRX_labels, [P_GLRX_red, P_GLRX_blue, P_GLRX_green],
     [P_GLRX_hits_red, P_GLRX_hits_blue, P_GLRX_hits_green], P_GLRX_metric,
     ES_A, (-0.67, 0.09), "%.1f", True, [1, 0, -1, -2], (-2.75, 1.45), "%d", False, 0.3),
    (0, 4, "CD58", P_CD58_labels, [P_CD58_red, P_CD58_blue, P_CD58_green],
     [P_CD58_hits_red, P_CD58_hits_blue, P_CD58_hits_green], P_CD58_metric,
     [0.0, -0.05, -0.10, -0.15, -0.20, -0.25, -0.30], (-0.33, 0.056), "%.2f", True,
     [0.0, -0.5, -1.0, -1.5], (-1.62, 0.5), "%.1f", False, 0.28),
    (0, 5, "IFIT1", P_IFIT1_labels, [P_IFIT1_red, P_IFIT1_blue, P_IFIT1_green],
     [P_IFIT1_hits_red, P_IFIT1_hits_blue, P_IFIT1_hits_green], P_metric,
     ES_A, (-0.62, 0.09), "%.1f", True, RK_P, (-3.4, 1.9), "%d", True, 0.3),
    (1, 0, "CSTA", R_CSTA_labels, [R_CSTA_red, R_CSTA_blue, R_CSTA_green],
     [R_CSTA_hits_red, R_CSTA_hits_blue, R_CSTA_hits_green], R_metric,
     ES_B, (-0.73, 0.07), "%.1f", True, RK_R, (-0.6, 0.335), "%.1f", True, 0.3),
    (1, 1, "DPH3", R_DPH3_labels, [R_DPH3_red, R_DPH3_blue, R_DPH3_green],
     [R_DPH3_hits_red, R_DPH3_hits_blue, R_DPH3_hits_green], R_metric,
     ES_B, (-0.73, 0.07), "%.1f", True, RK_R, (-0.6, 0.335), "%.1f", True, 0.3),
    (1, 2, "CAPZA2", R_CAPZA2_labels, [R_CAPZA2_red, R_CAPZA2_blue, R_CAPZA2_green],
     [R_CAPZA2_hits_red, R_CAPZA2_hits_blue, R_CAPZA2_hits_green], R_metric,
     ES_B, (-0.73, 0.07), "%.1f", True, RK_R, (-0.6, 0.335), "%.1f", True, 0.3),
    (1, 3, "GLRX", R_GLRX_labels, [R_GLRX_red, R_GLRX_blue, R_GLRX_green],
     [R_GLRX_hits_red, R_GLRX_hits_blue, R_GLRX_hits_green], R_metric,
     ES_B, (-0.73, 0.07), "%.1f", True, RK_R, (-0.6, 0.335), "%.1f", True, 0.3),
    (1, 4, "CD58", R_CD58_labels, [R_CD58_red, R_CD58_blue, R_CD58_green],
     [R_CD58_hits_red, R_CD58_hits_blue, R_CD58_hits_green], R_metric,
     ES_B, (-0.73, 0.07), "%.1f", True, RK_R, (-0.6, 0.335), "%.1f", True, 0.3),
    (1, 5, "IFIT1", R_IFIT1_labels, [R_IFIT1_red, R_IFIT1_blue, R_IFIT1_green],
     [R_IFIT1_hits_red, R_IFIT1_hits_blue, R_IFIT1_hits_green], R_IFIT1_metric,
     [0.6, 0.4, 0.2, 0.0, -0.2, -0.4, -0.6], (-0.6, 0.73), "%.1f", True,
     [0.6, 0.4, 0.2, 0.0, -0.2], (-0.28, 0.72), "%.1f", True, 0.45),
]

fig = plt.figure(figsize=(W / 100, H / 100), dpi=100)


def px_axes(x0, y0, x1, y1):
    return fig.add_axes([x0 / W, 1 - y1 / H, (x1 - x0) / W, (y1 - y0) / H])


def style(ax):
    for s in ax.spines.values():
        s.set_color("#555555")
        s.set_linewidth(0.6)
    ax.tick_params(labelsize=4.2, length=2, width=0.5, pad=1, color="#555555")


def tick_text(fmt, v):
    if abs(v) < 1e-9:
        v = 0.0
    return fmt % v


for (col, row, gene, labels, curves, hits, metric, es_t, es_lim, es_fmt, es_hide,
     rk_t, rk_lim, rk_fmt, rk_hide, gy) in panels:
    L = TOPS[col][row]
    x0, x1 = COL_X[col]

    # legend
    for k in range(3):
        y = 1 - (L + 9 * k) / H
        fig.add_artist(Line2D([(x0 - 1) / W, (x0 + 3) / W], [y, y], color=COLORS[k], lw=0.8))
        fig.text((x0 + 4.5) / W, y, labels[k], fontsize=4.2, va="center", color="#222222")

    # running enrichment score
    ax = px_axes(x0, L + 21, x1, L + 72)
    style(ax)
    ax.grid(color="#e6e6e6", lw=0.5)
    ax.set_axisbelow(True)
    for k in range(3):
        ax.plot([a for a, b in curves[k]], [b for a, b in curves[k]], color=COLORS[k], lw=0.8)
    ax.set_xlim(XLIM[col])
    ax.set_ylim(es_lim)
    ax.set_xticks(XT)
    ax.set_xticklabels([])
    ax.tick_params(axis="x", length=0)
    ax.set_yticks(es_t)
    lab = [tick_text(es_fmt, v) for v in es_t]
    if es_hide:
        lab[-1] = ""
    ax.set_yticklabels(lab)
    ax.set_ylabel("Enrichment sco\nre", fontsize=4, labelpad=1, linespacing=0.9)

    # hit rows
    for k in range(3):
        hx = px_axes(x0, L + 72 + 9 * k, x1, L + 81 + 9 * k)
        style(hx)
        hx.vlines([h * 1000 for h in hits[k]], 0, 1, color=COLORS[k], lw=0.6, alpha=0.9)
        hx.set_xlim(XLIM[col])
        hx.set_ylim(0, 1)
        hx.set_xticks([])
        hx.set_yticks([])

    # ranked list metric
    rx = px_axes(x0, L + 99, x1, L + 150)
    style(rx)
    rx.grid(color="#e6e6e6", lw=0.5)
    rx.set_axisbelow(True)
    mx = [a for a, b in metric]
    my = [b for a, b in metric]
    rx.fill_between(mx, 0, my, color="#c9c9c9", lw=0)
    rx.set_xlim(XLIM[col])
    rx.set_ylim(rk_lim)
    rx.set_xticks(XT)
    rx.xaxis.set_major_formatter(FuncFormatter(lambda v, p: "{:,.0f}".format(v)))
    rx.set_yticks(rk_t)
    rlab = [tick_text(rk_fmt, v) for v in rk_t]
    if rk_hide:
        rlab[-1] = ""
    rx.set_yticklabels(rlab)
    rx.set_ylabel("Ranked list me\ntric", fontsize=4, labelpad=1, linespacing=0.9)
    rx.set_xlabel("Rank in Ordered DataSet", fontsize=4.2, labelpad=1)
    rx.text(0.035, 0.86, "L", transform=rx.transAxes, fontsize=4.5, va="center")
    rx.text(0.965, 0.16, "H", transform=rx.transAxes, fontsize=4.5, va="center", ha="right")
    rx.text(0.51, gy, gene, transform=rx.transAxes, fontsize=15.5, ha="center", va="center",
            family="Liberation Sans")

# frames and headers
BOXES = [(2, 2, 313, 62), (317, 2, 630, 62), (2, 66, 313, 1194), (317, 66, 630, 1194)]
for bx0, by0, bx1, by1 in BOXES:
    fig.add_artist(Rectangle((bx0 / W, 1 - by1 / H), (bx1 - bx0) / W, (by1 - by0) / H,
                             transform=fig.transFigure, fill=False, edgecolor="#1f1fe0", lw=1.6))
fig.text(158 / W, 1 - 33 / H, "PCOS", fontsize=14, weight="bold", ha="center", va="center",
         family="Liberation Sans")
fig.text(473 / W, 1 - 33 / H, "RA", fontsize=14, weight="bold", ha="center", va="center",
         family="Liberation Sans")
fig.text(10 / W, 1 - 91 / H, "A", fontsize=16, ha="left", va="center", family="Liberation Sans")
fig.text(325 / W, 1 - 91 / H, "B", fontsize=16, ha="left", va="center", family="Liberation Sans")

fig.savefig("out.png", dpi=100)
